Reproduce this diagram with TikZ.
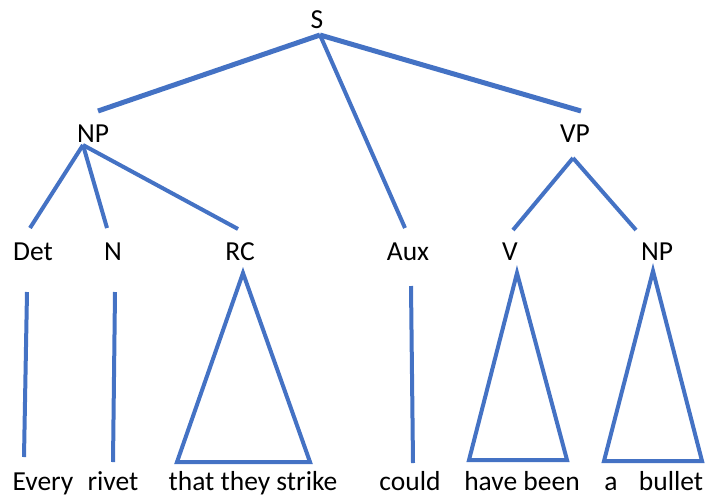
\documentclass[tikz,border=0pt]{standalone}
\usepackage{fontspec}
\setmainfont{Carlito}
\definecolor{branchblue}{HTML}{4472C4}
\tikzstyle{cat} = [anchor=base, inner sep=0pt, font=\fontsize{27.5}{32}\selectfont, text=black]
\tikzstyle{word} = [anchor=base, inner sep=0pt, font=\fontsize{27.5}{32}\selectfont, text=black]
\tikzstyle{branch} = [draw=branchblue, line width=4pt]
\tikzstyle{roof} = [draw=branchblue, line width=4pt, line join=miter]

\begin{document}
\begin{tikzpicture}[x=1pt,y=-1pt]
\useasboundingbox (0,0) rectangle (706,496);

% category labels
\node (s) [cat] at (317,28) {S};
\node (np) [cat] at (93,142) {NP};
\node (vp) [cat] at (575,142) {VP};
\node (det) [cat] at (33,260) {Det};
\node (n) [cat] at (113,260) {N};
\node (rc) [cat] at (240,260) {RC};
\node (aux) [cat] at (408,260) {Aux};
\node (v) [cat] at (510,260) {V};
\node (obj) [cat] at (657,260) {NP};

% words
\node (every) [word] at (43,490) {Every};
\node (rivet) [word] at (113,490) {rivet};
\node (that) [word] at (253,490) {that they strike};
\node (could) [word] at (410,490) {could};
\node (have) [word] at (522,490) {have been};
\node (a) [word] at (611,490) {a};
\node (bullet) [word] at (671,490) {bullet};

% branch ends
\coordinate (s-top) at (320,35);
\coordinate (np-in) at (98,111);
\coordinate (aux-in) at (405,228);
\coordinate (vp-in) at (581,111);
\coordinate (np-top) at (83,145);
\coordinate (det-in) at (30,228);
\coordinate (n-in) at (107,228);
\coordinate (rc-in) at (238,229);
\coordinate (vp-top) at (573,158);
\coordinate (v-in) at (513,230);
\coordinate (obj-in) at (636,230);

\draw [branch, line width=5pt] (s-top) -- (np-in);
\draw [branch] (s-top) -- (aux-in);
\draw [branch, line width=5pt] (s-top) -- (vp-in);
\draw [branch] (np-top) -- (det-in);
\draw [branch] (np-top) -- (n-in);
\draw [branch] (np-top) -- (rc-in);
\draw [branch] (vp-top) -- (v-in);
\draw [branch] (vp-top) -- (obj-in);

% lexical lines
\coordinate (det-a) at (27,292);
\coordinate (det-b) at (24,457);
\coordinate (n-a) at (115,292);
\coordinate (n-b) at (113,462);
\coordinate (aux-a) at (411,286);
\coordinate (aux-b) at (413,463);
\draw [branch] (det-a) -- (det-b);
\draw [branch] (n-a) -- (n-b);
\draw [branch] (aux-a) -- (aux-b);

% roofs
\draw [roof] (243,273) -- (177,462) -- (310,462) -- cycle;
\draw [roof] (517,273) -- (469,460) -- (567,460) -- cycle;
\draw [roof] (653,271) -- (604,461) -- (702,461) -- cycle;

\end{tikzpicture}
\end{document}
